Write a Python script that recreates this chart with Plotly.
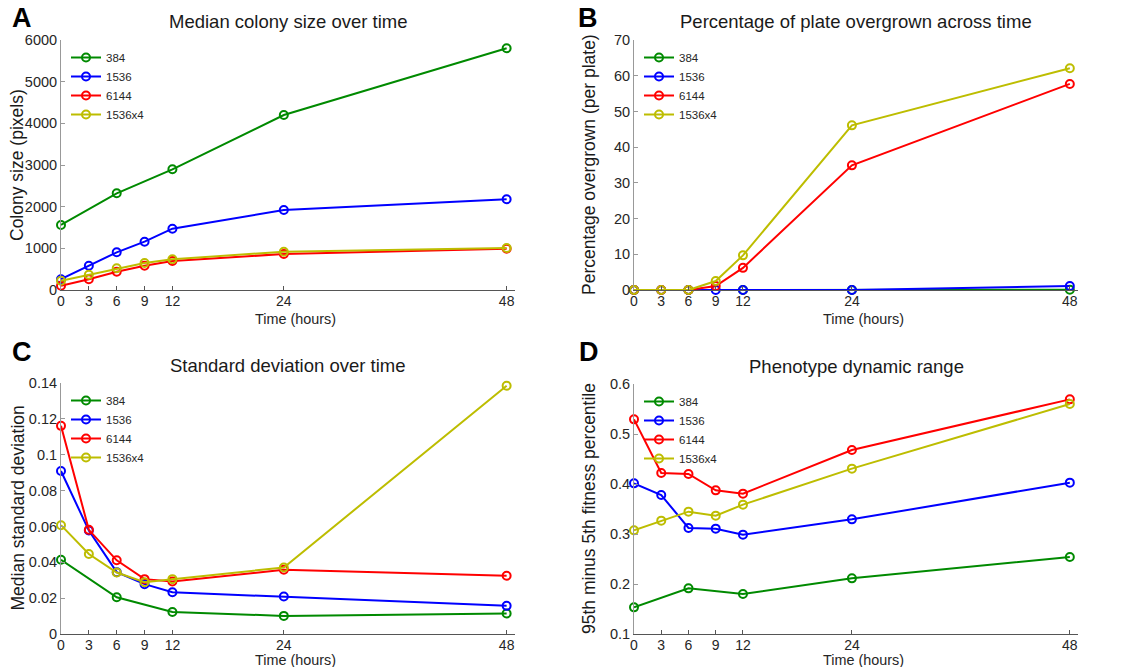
import plotly.graph_objects as go

# ---- data ----
times = [0, 3, 6, 9, 12, 24, 48]
times_384 = [0, 6, 12, 24, 48]
series_names = ["384", "1536", "6144", "1536x4"]

# Panel A: Median colony size (pixels)
size_384 = [1560, 2320, 2896, 4200, 5800]
size_1536 = [260, 584, 904, 1160, 1472, 1920, 2176]
size_6144 = [104, 256, 440, 584, 696, 864, 992]
size_1536x4 = [224, 368, 520, 648, 736, 920, 1008]

# Panel B: Percentage overgrown (per plate)
over_384 = [0, 0, 0, 0, 0.1]
over_1536 = [0, 0, 0, 0, 0, 0, 1.1]
over_6144 = [0, 0, 0, 1.1, 6.2, 34.9, 57.7]
over_1536x4 = [0, 0, 0, 2.5, 9.7, 46.1, 62.1]

# Panel C: Median standard deviation
sd_384 = [0.0414, 0.0205, 0.0123, 0.0101, 0.0114]
sd_1536 = [0.0909, 0.0577, 0.0345, 0.0278, 0.0233, 0.0209, 0.0157]
sd_6144 = [0.1161, 0.0581, 0.0411, 0.0306, 0.0293, 0.0358, 0.0325]
sd_1536x4 = [0.0607, 0.0446, 0.0343, 0.0289, 0.0306, 0.0371, 0.1385]

# Panel D: 95th minus 5th fitness percentile
dr_384 = [0.1533, 0.1913, 0.180, 0.2113, 0.254]
dr_1536 = [0.4013, 0.378, 0.312, 0.3107, 0.2987, 0.3293, 0.4027]
dr_6144 = [0.5293, 0.422, 0.420, 0.3873, 0.3807, 0.468, 0.5693]
dr_1536x4 = [0.3073, 0.3267, 0.3447, 0.3367, 0.3587, 0.4307, 0.560]

colors = ["#008a00", "#0000ff", "#ff0000", "#bdbd00"]

panels = [
    dict(data=[size_384, size_1536, size_6144, size_1536x4], yr=[0, 6000], dt=1000,
         title="Median colony size over time", ytitle="Colony size (pixels)", letter="A"),
    dict(data=[over_384, over_1536, over_6144, over_1536x4], yr=[0, 70], dt=10,
         title="Percentage of plate overgrown across time", ytitle="Percentage overgrown (per plate)", letter="B"),
    dict(data=[sd_384, sd_1536, sd_6144, sd_1536x4], yr=[0, 0.14], dt=0.02,
         title="Standard deviation over time", ytitle="Median standard deviation", letter="C"),
    dict(data=[dr_384, dr_1536, dr_6144, dr_1536x4], yr=[0.1, 0.6], dt=0.1,
         title="Phenotype dynamic range", ytitle="95th minus 5th fitness percentile", letter="D"),
]
xtitle = "Time (hours)"

W, H = 1133, 667
# pixel boxes (left, right, top, bottom)
boxes = [(61, 515, 40, 290), (634, 1078, 40, 290), (61, 515, 383, 634), (634, 1078, 384, 634)]
ytitle_x = [17, 589, 17, 589]
xtitle_pos = [(295, 319), (863, 319), (295, 660), (863, 660)]
letter_pos = [(22, 18), (588, 18), (22, 352), (589, 352)]

FONT = "Liberation Sans, Arial, sans-serif"
fig = go.Figure()
layout = dict(width=W, height=H, margin=dict(l=0, r=0, t=0, b=0, autoexpand=False), autosize=False,
              plot_bgcolor="white", paper_bgcolor="white",
              font=dict(family=FONT, color="#262626"))
annotations = []

for i, p in enumerate(panels):
    k = i + 1
    xa = "x" if k == 1 else f"x{k}"
    ya = "y" if k == 1 else f"y{k}"
    lg = "legend" if k == 1 else f"legend{k}"
    l, r, t, b = boxes[i]
    for j, (name, vals) in enumerate(zip(series_names, p["data"])):
        xs = times_384 if j == 0 else times
        fig.add_trace(go.Scatter(
            x=xs, y=vals, name=name, mode="lines+markers",
            line=dict(color=colors[j], width=2),
            marker=dict(symbol="circle-open", size=8, color=colors[j], line=dict(width=2, color=colors[j])),
            xaxis=xa, yaxis=ya, legend=lg, cliponaxis=False))
    axkey_x = "xaxis" if k == 1 else f"xaxis{k}"
    axkey_y = "yaxis" if k == 1 else f"yaxis{k}"
    layout[axkey_x] = dict(domain=[l / W, r / W], anchor=ya, range=[0, 48.9], automargin=False,
                           tickvals=times, ticks="inside", ticklen=4, tickcolor="#555",
                           showline=True, linecolor="#555", linewidth=1, showgrid=False,
                           zeroline=False, tickfont=dict(size=14, color="#262626"),
                           ticklabelstandoff=-2)
    layout[axkey_y] = dict(domain=[1 - b / H, 1 - t / H], anchor=xa, range=p["yr"], automargin=False,
                           dtick=p["dt"], tick0=0, ticks="inside", ticklen=4, tickcolor="#999",
                           showline=True, linecolor="#999", linewidth=1, showgrid=False,
                           zeroline=False, tickfont=dict(size=14.5, color="#262626"))
    layout[lg] = dict(x=(l + 5) / W, y=1 - (t + 3) / H, xanchor="left", yanchor="top",
                      bgcolor="rgba(0,0,0,0)", font=dict(size=11.5, color="#262626"),
                      tracegroupgap=0, itemwidth=30)
    annotations.append(dict(text=p["title"], x=(l + r) / 2 / W, y=1 - (t - 18) / H,
                            xref="paper", yref="paper", showarrow=False,
                            font=dict(size=18.5, color="#1a1a1a"), xanchor="center", yanchor="middle"))
    annotations.append(dict(text=p["ytitle"], x=ytitle_x[i] / W, y=1 - (t + b) / 2 / H,
                            xref="paper", yref="paper", showarrow=False, textangle=-90,
                            font=dict(size=17.5, color="#1a1a1a"), xanchor="center", yanchor="middle"))
    xx, xy = xtitle_pos[i]
    annotations.append(dict(text=xtitle, x=xx / W, y=1 - xy / H,
                            xref="paper", yref="paper", showarrow=False,
                            font=dict(size=14.4, color="#262626"), xanchor="center", yanchor="middle"))
    lx, ly = letter_pos[i]
    annotations.append(dict(text="<b>" + p["letter"] + "</b>", x=lx / W, y=1 - ly / H,
                            xref="paper", yref="paper", showarrow=False,
                            font=dict(size=27, color="black"), xanchor="center", yanchor="middle"))

layout["annotations"] = annotations
fig.update_layout(**layout)
css_js = (
    "var s=document.createElement('style');"
    "s.textContent='html,body{margin:0!important;padding:0!important;overflow:hidden;height:667px;}';"
    "document.head.appendChild(s);"
)
fig.write_html("out.html", config={"displayModeBar": False}, post_script=css_js)
